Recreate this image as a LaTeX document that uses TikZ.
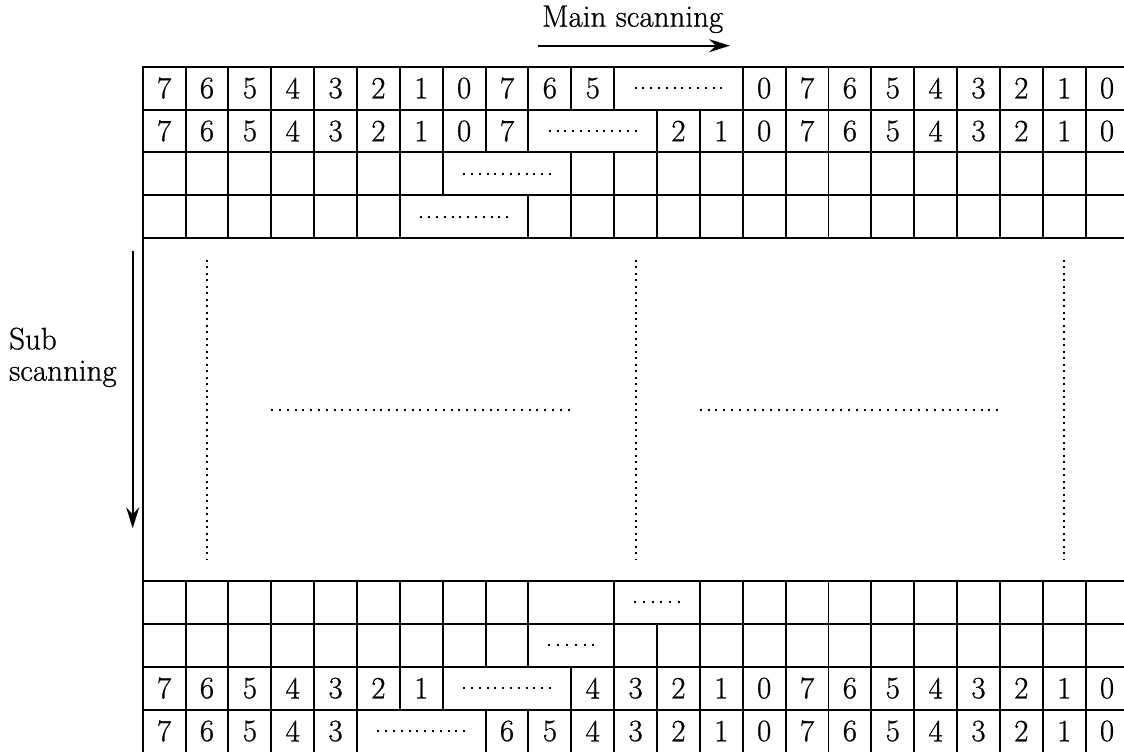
\documentclass[tikz,border=0pt]{standalone}
\usepackage{fontspec}
\setmainfont{Latin Modern Roman}[FakeBold=0.8]
\usetikzlibrary{arrows.meta}
\tikzset{
  cell/.style={draw, line width=1.9pt, inner sep=0pt, minimum height=42.86pt, minimum width=#1*42.86pt},
  cell/.default=1,
  dotrow/.style={line width=2pt, dash pattern=on 2pt off 5.8pt},
  dotshort/.style={line width=2pt, dash pattern=on 2pt off 6.8pt},
  dotcol/.style={line width=2pt, dash pattern=on 2pt off 4.5pt},
  scanarrow/.style={line width=1.9pt, -{Stealth[length=21pt,width=13pt,inset=7pt]}},
  lbl/.style={inner sep=0pt}
}
\begin{document}
\begin{tikzpicture}[x=1pt,y=-1pt, every node/.style={font=\fontsize{31}{31.4}\selectfont}]
\useasboundingbox (0,0) rectangle (1124,752);
\clip (0,0) rectangle (1124,752);
% labels and arrows
\node[lbl, anchor=base west] (mainlbl) at (542,26.7) {Main scanning};
\coordinate (ms1) at (538,45.7);
\coordinate (ms2) at (730,45.7);
\draw[scanarrow] (ms1) -- (ms2);
\node[lbl, anchor=base west, align=left] (sublbl) at (9,380.7) {Sub\\scanning};
\coordinate (ss1) at (132.7,250.7);
\coordinate (ss2) at (132.7,528.3);
\draw[scanarrow] (ss1) -- (ss2);
\begin{scope}[shift={(142.7,66.7)}, x=42.86pt, y=-42.86pt]
  % row 0
  \foreach \c/\s/\t in {0/1/7,1/1/6,2/1/5,3/1/4,4/1/3,5/1/2,6/1/1,7/1/0,8/1/7,9/1/6,10/1/5,11/3/{},14/1/0,15/1/7,16/1/6,17/1/5,18/1/4,19/1/3,20/1/2,21/1/1,22/1/0}
    \node[cell=\s] (r0-\c) at (\c+\s/2,0.5) {\t};
  % row 1
  \foreach \c/\s/\t in {0/1/7,1/1/6,2/1/5,3/1/4,4/1/3,5/1/2,6/1/1,7/1/0,8/1/7,9/3/{},12/1/2,13/1/1,14/1/0,15/1/7,16/1/6,17/1/5,18/1/4,19/1/3,20/1/2,21/1/1,22/1/0}
    \node[cell=\s] (r1-\c) at (\c+\s/2,1.5) {\t};
  % row 2
  \foreach \c in {0,...,6,10,11,...,22}
    \node[cell] (r2-\c) at (\c+0.5,2.5) {};
  \node[cell=3] (r2-7) at (8.5,2.5) {};
  % row 3
  \foreach \c in {0,...,5,9,10,...,22}
    \node[cell] (r3-\c) at (\c+0.5,3.5) {};
  \node[cell=3] (r3-6) at (7.5,3.5) {};
  % middle area
  \node[cell=23, minimum height=8*42.86pt] (mid) at (11.5,8) {};
  % row 12
  \foreach \c in {0,...,8,13,14,...,22}
    \node[cell] (r12-\c) at (\c+0.5,12.5) {};
  \node[cell=2] (r12-9) at (10,12.5) {};
  \node[cell=2] (r12-11) at (12,12.5) {};
  % row 13
  \foreach \c in {0,...,8,11,12,...,22}
    \node[cell] (r13-\c) at (\c+0.5,13.5) {};
  \node[cell=2] (r13-9) at (10,13.5) {};
  % row 14
  \foreach \c/\s/\t in {0/1/7,1/1/6,2/1/5,3/1/4,4/1/3,5/1/2,6/1/1,7/3/{},10/1/4,11/1/3,12/1/2,13/1/1,14/1/0,15/1/7,16/1/6,17/1/5,18/1/4,19/1/3,20/1/2,21/1/1,22/1/0}
    \node[cell=\s] (r14-\c) at (\c+\s/2,14.5) {\t};
  % row 15
  \foreach \c/\s/\t in {0/1/7,1/1/6,2/1/5,3/1/4,4/1/3,5/3/{},8/1/6,9/1/5,10/1/4,11/1/3,12/1/2,13/1/1,14/1/0,15/1/7,16/1/6,17/1/5,18/1/4,19/1/3,20/1/2,21/1/1,22/1/0}
    \node[cell=\s] (r15-\c) at (\c+\s/2,15.5) {\t};
  % dotted fillers in merged cells
  \foreach \n in {r0-11,r1-9,r2-7,r3-6,r14-7,r15-5}
    \draw[dotrow] ([xshift=-43.85pt]\n.center) -- ([xshift=43.85pt]\n.center);
  \foreach \n in {r12-11,r13-9}
    \draw[dotshort] ([xshift=-23pt]\n.center) -- ([xshift=23pt]\n.center);
  % dotted lines in the middle area
  \foreach \x in {1.5,11.5,21.5}
    \draw[dotcol] (\x,4.5) -- (\x,11.5);
  \draw[dotrow] (3,8) -- (10,8);
  \draw[dotrow] (13,8) -- (20,8);
\end{scope}
\end{tikzpicture}
\end{document}
